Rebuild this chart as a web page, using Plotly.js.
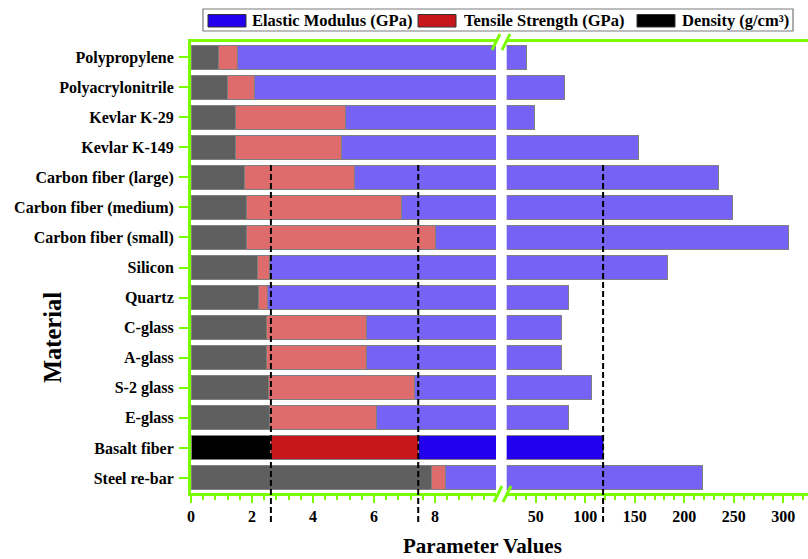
<!DOCTYPE html>
<html><head><meta charset="utf-8">
<script src="https://cdn.plot.ly/plotly-3.0.1.min.js"></script>
<style>html,body{margin:0;padding:0;background:#fff}#chart{width:808px;height:559px}</style>
</head><body><div id="chart"></div>
<script>
// ---- data ----
const materials = ['Polypropylene','Polyacrylonitrile','Kevlar K-29','Kevlar K-149','Carbon fiber (large)','Carbon fiber (medium)','Carbon fiber (small)','Silicon','Quartz','C-glass','A-glass','S-2 glass','E-glass','Basalt fiber','Steel re-bar'];
const density         = [0.91, 1.20, 1.45, 1.47, 1.76, 1.81, 1.81, 2.18, 2.21, 2.48, 2.48, 2.53, 2.59, 2.62, 7.87];
const tensileStrength = [0.63, 0.88, 3.60, 3.47, 3.59, 5.09, 6.21, 0.39, 0.31, 3.27, 3.27, 4.80, 3.48, 4.83, 0.48];
const elasticModulus  = [39.4, 76.5, 43.3, 148.4, 229.5, 242.1, 297.6, 181.0, 80.8, 70.6, 70.6, 99.0, 77.2, 110.6, 210.4];
const highlighted = 'Basalt fiber';
const leftTicks  = [0, 2, 4, 6, 8];
const rightTicks = [50, 100, 150, 200, 250, 300];
const seriesNames = ['Density (g/cm³)', 'Tensile Strength (GPa)', 'Elastic Modulus (GPa)'];

// ---- styling ----
const baseColors = ['#5f5f5f', '#df6c6c', '#7762f6'];
const hiColors   = ['#000000', '#c8161d', '#2200ee'];
const GREEN = '#7CFC00';
const FONT = '"Liberation Serif", "Times New Roman", serif';
const W = 808, H = 559, ML = 191, MR = 0, MT = 42, MB = 66;
const PW = W - ML - MR, PH = H - MT - MB;
const px = v => (v - ML) / PW;
const py = v => (H - MB - v) / PH;

const seriesVals = [density, tensileStrength, elasticModulus];
const traces = [];
['x', 'x2'].forEach(xa => {
  [false, true].forEach(isHi => {
    seriesVals.forEach((vals, k) => {
      traces.push({
        type: 'bar', orientation: 'h', name: seriesNames[k],
        y: materials,
        x: vals.map((v, i) => ((materials[i] === highlighted) === isHi ? v : null)),
        xaxis: xa, yaxis: 'y', showlegend: false,
        marker: {color: isHi ? hiColors[k] : baseColors[k], line: {color: '#808080', width: 1}},
        hovertemplate: '%{y}: %{x}<extra>' + seriesNames[k] + '</extra>'
      });
    });
  });
});

const hiIdx = materials.indexOf(highlighted);
const refLeft = [density[hiIdx], density[hiIdx] + tensileStrength[hiIdx]];
const refRight = density[hiIdx] + tensileStrength[hiIdx] + elasticModulus[hiIdx];

const dashLine = {color: '#000', width: 2, dash: '6px,3px'};
const shapes = [];
refLeft.forEach(v => shapes.push({type: 'line', xref: 'x', yref: 'paper', x0: v, x1: v, y0: py(522), y1: py(165), line: dashLine, layer: 'above'}));
shapes.push({type: 'line', xref: 'x2', yref: 'paper', x0: refRight, x1: refRight, y0: py(522), y1: py(165), line: dashLine, layer: 'above'});

// axis break marks
const brk = (cx, cy) => ({type: 'line', xref: 'paper', yref: 'paper', x0: px(cx - 4), x1: px(cx + 4), y0: py(cy + 8), y1: py(cy - 8), line: {color: GREEN, width: 3}, layer: 'above'});
shapes.push(brk(496, 42), brk(506, 42), brk(498, 494), brk(507, 494));

// custom legend
shapes.push({type: 'rect', xref: 'paper', yref: 'paper', x0: px(203), x1: px(793), y0: py(31), y1: py(9), line: {color: '#7a7a7a', width: 1.2}, fillcolor: '#fff', layer: 'above'});
const legendItems = [
  {sx: 208, tx: 249.5, k: 2},
  {sx: 418, tx: 461.5, k: 1},
  {sx: 637, tx: 679.5, k: 0}
];
const annotations = [];
legendItems.forEach(it => {
  shapes.push({type: 'rect', xref: 'paper', yref: 'paper', x0: px(it.sx), x1: px(it.sx + 38), y0: py(27), y1: py(14.5), fillcolor: hiColors[it.k], line: {color: '#333', width: 1}, layer: 'above'});
  annotations.push({xref: 'paper', yref: 'paper', x: px(it.tx), y: py(20.5), xanchor: 'left', yanchor: 'middle', showarrow: false, text: '<b>' + seriesNames[it.k] + '</b>', font: {family: FONT, size: 16.5, color: '#000'}});
});
annotations.push({xref: 'paper', yref: 'paper', x: px(52), y: py(338), textangle: -90, xanchor: 'center', yanchor: 'middle', showarrow: false, text: '<b>Material</b>', font: {family: FONT, size: 24.5, color: '#000'}});
annotations.push({xref: 'paper', yref: 'paper', x: px(482), y: py(546), xanchor: 'center', yanchor: 'middle', showarrow: false, text: '<b>Parameter Values</b>', font: {family: FONT, size: 21, color: '#000'}});

const tickFont = {family: FONT, size: 16, color: '#000', weight: 'bold'};
const xCommon = {
  ticks: 'outside', ticklen: 7, tickwidth: 2, tickcolor: GREEN,
  showline: true, linecolor: GREEN, linewidth: 3, mirror: true,
  showgrid: false, zeroline: false, tickfont: tickFont, anchor: 'y', fixedrange: true
};
const layout = {
  width: W, height: H, margin: {l: ML, r: MR, t: MT, b: MB},
  barmode: 'stack', bargap: 0.2, showlegend: false,
  paper_bgcolor: '#fff', plot_bgcolor: '#fff',
  font: {family: FONT, size: 16, color: '#000'},
  xaxis: Object.assign({}, xCommon, {
    domain: [0, px(496)], range: [0, 10], tickmode: 'array', tickvals: leftTicks,
    minor: {tickmode: 'linear', tick0: 0, dtick: 0.4, ticks: 'outside', ticklen: 4, tickwidth: 2, tickcolor: GREEN, showgrid: false}
  }),
  xaxis2: Object.assign({}, xCommon, {
    domain: [px(506.7), 1], range: [20.7, 325], tickmode: 'array', tickvals: rightTicks,
    minor: {tickmode: 'linear', tick0: 0, dtick: 10, ticks: 'outside', ticklen: 4, tickwidth: 2, tickcolor: GREEN, showgrid: false}
  }),
  yaxis: {
    type: 'category', categoryorder: 'array', categoryarray: materials, range: [14.5, -0.5],
    ticks: 'outside', ticklen: 9, tickwidth: 2, tickcolor: GREEN,
    showline: true, linecolor: GREEN, linewidth: 3, mirror: false,
    showgrid: false, zeroline: false, tickfont: tickFont, anchor: 'x', fixedrange: true, ticklabelstandoff: 2
  },
  shapes: shapes,
  annotations: annotations
};
Plotly.newPlot('chart', traces, layout, {displayModeBar: false});
</script>
</body></html>
